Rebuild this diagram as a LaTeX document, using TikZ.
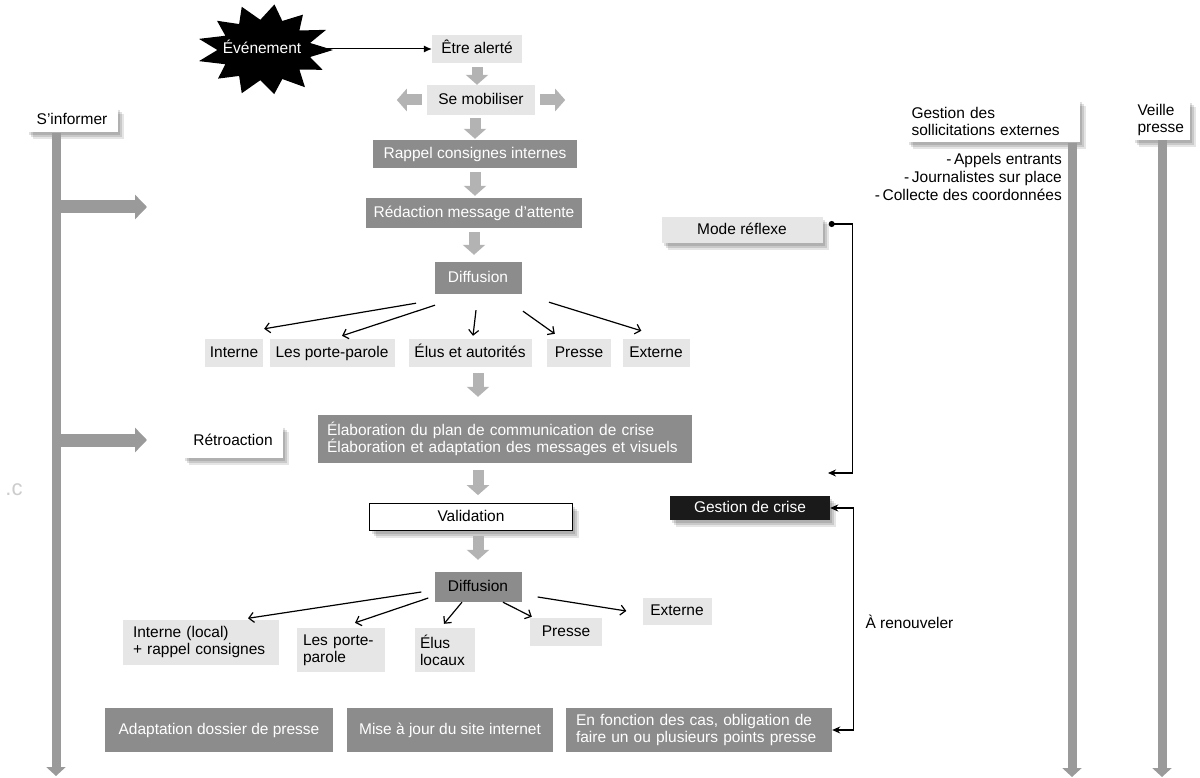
\documentclass[tikz,border=0pt]{standalone}
\usepackage{fontspec}
\setmainfont{Liberation Sans}
\usetikzlibrary{arrows.meta,calc,shadows}
\definecolor{lite}{HTML}{E6E6E6}
\definecolor{dark}{HTML}{8C8C8C}
\definecolor{agray}{HTML}{B3B3B3}
\definecolor{bgray}{HTML}{9A9A9A}
\definecolor{crise}{HTML}{1A1A1A}
\begin{document}
\begin{tikzpicture}[x=1pt,y=-1pt,
  font=\fontsize{15.5}{17}\selectfont,
  lbox/.style={fill=lite,inner sep=0pt,text=black},
  dbox/.style={fill=dark,inner sep=0pt,text=white},
  wbox/.style={fill=white,inner sep=0pt,text=black},
  one/.style={text height=11pt,text depth=1.5pt},
  shad/.style={
    drop shadow={shadow xshift=2pt,shadow yshift=-3pt,fill=black,opacity=0.12},
    drop shadow={shadow xshift=4pt,shadow yshift=-5pt,fill=black,opacity=0.12},
    drop shadow={shadow xshift=6pt,shadow yshift=-7pt,fill=black,opacity=0.1}},
  blk/.style={draw=agray,line width=11pt,-{Triangle[length=10pt,width=22pt]}},
  bar/.style={draw=bgray,line width=9pt,-{Triangle[length=9pt,width=19pt]}},
  hblk/.style={draw=bgray,line width=13pt,-{Triangle[length=12pt,width=24pt]}},
  thin/.style={draw=black,line width=1.2pt,-{Straight Barb[length=5pt,width=10pt]}},
  loop/.style={draw=black,line width=1.3pt},
]
\useasboundingbox[fill=white] (0,0) rectangle (1200,778);

% star
\fill[black] (333,50) \foreach \a/\r in {13/0.68,27/0.95,40/0.66,54/1.0,68/0.68,82/0.97,96/0.66,110/1.0,124/0.68,138/0.93,152/0.66,166/1.0,180/0.7,194/1.0,208/0.66,222/0.95,236/0.68,250/1.0,264/0.66,278/1.0,292/0.68,306/0.95,320/0.66,334/1.0,347/0.68} { -- ({265+68*\r*cos(\a)},{50+46*\r*sin(\a)}) } -- cycle;
\node[text=white,one] (ev) at (262,49) {Événement};

% main column
\node[lbox,one,minimum width=90pt,minimum height=28pt] (etre) at (477,49) {Être alerté};
\node[lbox,one,minimum width=108pt,minimum height=30pt] (mob) at (481,100) {Se mobiliser};
\node[dbox,one,minimum width=204pt,minimum height=28pt] (rappel) at (475,154) {Rappel consignes internes};
\node[dbox,one,minimum width=216pt,minimum height=30pt] (redac) at (474,213) {Rédaction message d’attente};
\node[dbox,one,minimum width=87pt,minimum height=32pt] (diff1) at (478,278) {Diffusion};

\node[lbox,one,minimum width=58pt,minimum height=28pt] (interne) at (234,353) {Interne};
\node[lbox,one,minimum width=125pt,minimum height=28pt] (porte) at (332,353) {Les porte-parole};
\node[lbox,one,minimum width=123pt,minimum height=28pt] (elus) at (470,353) {Élus et autorités};
\node[lbox,one,minimum width=64pt,minimum height=28pt] (presse) at (579,353) {Presse};
\node[lbox,one,minimum width=67pt,minimum height=28pt] (externe) at (656,353) {Externe};

\node[dbox,text width=356pt,inner xsep=9pt,minimum height=48pt,align=left] (elab) at (505,439) {Élaboration du plan de communication de crise\\Élaboration et adaptation des messages et visuels};
\node[wbox,one,shad,draw=black,line width=0.8pt,minimum width=203pt,minimum height=27pt] (valid) at (471,517) {Validation};
\node[fill=dark,inner sep=0pt,text=black,one,minimum width=87pt,minimum height=30pt] (diff2) at (478,587) {Diffusion};

\node[lbox,text width=136pt,inner xsep=10pt,minimum height=45pt,align=left] (interne2) at (201,642) {Interne (local)\\+ rappel consignes};
\node[lbox,text width=76pt,inner xsep=6pt,minimum height=44pt,align=left] (porte2) at (341,650) {Les porte-\\parole};
\node[lbox,text width=50pt,inner xsep=5pt,minimum height=44pt,align=left] (elus2) at (445,650) {Élus\\locaux};
\node[lbox,one,minimum width=72pt,minimum height=28pt] (presse2) at (566,632) {Presse};
\node[lbox,one,minimum width=69pt,minimum height=27pt] (externe2) at (677,611) {Externe};

\node[dbox,one,minimum width=228pt,minimum height=44pt] (adapt) at (219,730) {Adaptation dossier de presse};
\node[dbox,one,minimum width=206pt,minimum height=44pt] (site) at (450,730) {Mise à jour du site internet};
\node[dbox,text width=246pt,inner xsep=10pt,minimum height=44pt,align=left] (fonc) at (699,730) {En fonction des cas, obligation de\\faire un ou plusieurs points presse};

% side boxes
\node[wbox,one,shad,minimum width=91pt,minimum height=25pt] (sinf) at (72,120) {S’informer};
\node[wbox,one,shad,minimum width=100pt,minimum height=33pt] (retro) at (233,441) {Rétroaction};
\node[lbox,one,shad,minimum width=161pt,minimum height=26pt] (mode) at (742,230) {Mode réflexe};
\node[fill=crise,text=white,inner sep=0pt,one,shad,minimum width=160pt,minimum height=24pt] (gcrise) at (750,508) {Gestion de crise};
\node[anchor=west] (renouv) at (862,622) {À renouveler};

\node[wbox,shad,text width=163pt,inner xsep=5pt,minimum height=43pt,align=left] (gsol) at (993,121) {Gestion des\\sollicitations externes};
\node[anchor=north east,align=right,inner sep=0pt,font=\fontsize{15.5}{18}\selectfont] (bul) at (1062,153) {-\,Appels entrants\\-\,Journalistes sur place\\-\,Collecte des coordonnées};
\node[wbox,shad,text width=47pt,inner xsep=5pt,minimum height=40pt,align=left] (veille) at (1161,120) {Veille\\presse};

\node[text=gray!40,font=\fontsize{22}{22}\selectfont] (wm) at (14,490) {.c};

% coordinates
\coordinate (lbar) at (56,776);
\coordinate (gbar) at (1072,777);
\coordinate (vbar) at (1162,777);
\coordinate (h1s) at (56,207);
\coordinate (h1e) at (147,207);
\coordinate (h2s) at (56,440);
\coordinate (h2e) at (147,440);
\coordinate (mrend) at (828,473);

% bars and horizontal arrows
\draw[hblk] (h1s) -- (h1e);
\draw[hblk] (h2s) -- (h2e);
\draw[bar] (sinf.south -| lbar) -- (lbar);
\draw[bar] (gsol.south -| gbar) -- (gbar);
\draw[bar] (veille.south -| vbar) -- (vbar);

% event arrow
\draw[line width=1pt,-{Latex[length=8pt,width=7pt]}] ([xshift=14pt]ev.east) -- (etre.west);

% block arrows
\draw[blk] ([yshift=-4pt]etre.south) -- (etre.south |- mob.north);
\draw[blk] ([xshift=-5pt]mob.west) -- ++(-25,0);
\draw[blk] ([xshift=5pt]mob.east) -- ++(25,0);
\draw[blk] ([yshift=-3pt]mob.south -| rappel.north) -- ([yshift=1pt]rappel.north);
\draw[blk] ([yshift=-4pt]rappel.south) -- ([yshift=2pt]rappel.south |- redac.north);
\draw[blk] ([yshift=-4pt]redac.south) -- ([yshift=7pt]redac.south |- diff1.north);
\draw[blk] ([yshift=-6pt]elus.south -| diff1.south) -- ([yshift=18pt]elab.north -| diff1.south);
\draw[blk] ([yshift=-7pt]elab.south -| diff1.south) -- ([yshift=8pt]valid.north -| diff1.south);
\draw[blk] ([yshift=-5pt]valid.south -| diff2.south) -- ([yshift=12pt]diff2.north);

% thin arrows row 1
\draw[thin] ($(diff1.south)+(-62,9)$) -- ($(interne.north east)+(1,-10)$);
\draw[thin] ($(diff1.south)+(-43,11)$) -- ($(porte.north)+(10,-3)$);
\draw[thin] ($(diff1.south)+(-2,16)$) -- ($(elus.north)+(3,-3)$);
\draw[thin] ($(diff1.south)+(45,17)$) -- ($(presse.north west)+(8,-5)$);
\draw[thin] ($(diff1.south)+(71,8)$) -- ($(externe.north west)+(19,-8)$);

% thin arrows row 2
\draw[thin] ($(diff2.west)+(-13,5)$) -- ($(interne2.north)+(47,-1)$);
\draw[thin] ($(diff2.west)+(-6,11)$) -- ($(porte2.north)+(14,-5)$);
\draw[thin] ($(diff2.south)+(-16,0)$) -- ($(elus2.north)+(-1,-4)$);
\draw[thin] ($(diff2.south)+(25,0)$) -- ($(presse2.north west)+(2,-1)$);
\draw[thin] ($(diff2.east)+(16,10)$) -- ($(externe2.west)+(-16,0)$);

% loops
\draw[loop,{Circle[length=6pt]}-{Stealth[length=8pt,width=7pt]}] ([xshift=6pt,yshift=6pt]mode.east) -- ++(24,0) |- (mrend);
\draw[loop,{Stealth[length=8pt,width=7pt]}-{Stealth[length=8pt,width=7pt]}] (gcrise.east) -- ++(23,0) |- (fonc.east);
\end{tikzpicture}
\end{document}
